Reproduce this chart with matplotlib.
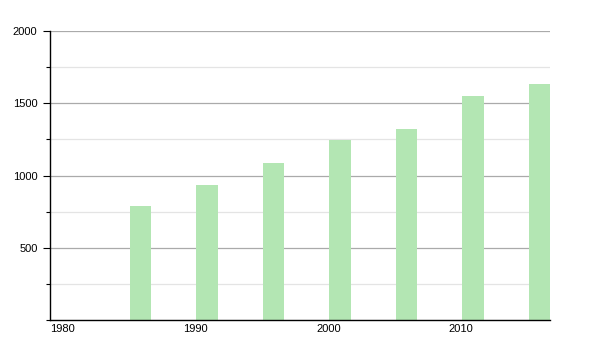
import numpy as np
import matplotlib.pyplot as plt
from matplotlib.ticker import MultipleLocator

years = [1986, 1991, 1996, 2001, 2006, 2011, 2016]
values = [791, 934, 1087, 1248, 1322, 1550, 1633]
xticks = [1980, 1990, 2000, 2010]
yticks = [500, 1000, 1500, 2000]

plt.rcParams['font.family'] = ['Liberation Sans', 'DejaVu Sans']
fig = plt.figure(figsize=(6, 3.5), dpi=100)
ax = fig.add_axes([50/600, 30/350, 500/600, 289/350])

ax.bar(years, values, width=1.6, align='edge', color='#b3e6b3', zorder=2)

ax.set_xlim(1980, 2017.6)
ax.set_ylim(0, 2000)
ax.set_xticks(xticks)
ax.set_xticklabels([str(y) for y in xticks], ha='left')
ax.set_yticks(yticks)
ax.yaxis.set_minor_locator(MultipleLocator(250))
ax.grid(axis='y', which='major', color='#aaaaaa', linewidth=0.9, zorder=0)
ax.grid(axis='y', which='minor', color='#e4e4e4', linewidth=0.9, zorder=0)
ax.set_axisbelow(True)

for s in ['top', 'right']:
    ax.spines[s].set_visible(False)
ax.spines['left'].set_linewidth(1.0)
ax.spines['bottom'].set_linewidth(1.0)
ax.tick_params(axis='y', which='major', length=5, width=0.8, labelsize=8, pad=4)
ax.tick_params(axis='y', which='minor', length=3, width=0.8)
ax.tick_params(axis='x', length=0, labelsize=8, pad=3)
for lbl in ax.get_xticklabels():
    lbl.set_x(lbl.get_position()[0])

fig.savefig('out.png')
